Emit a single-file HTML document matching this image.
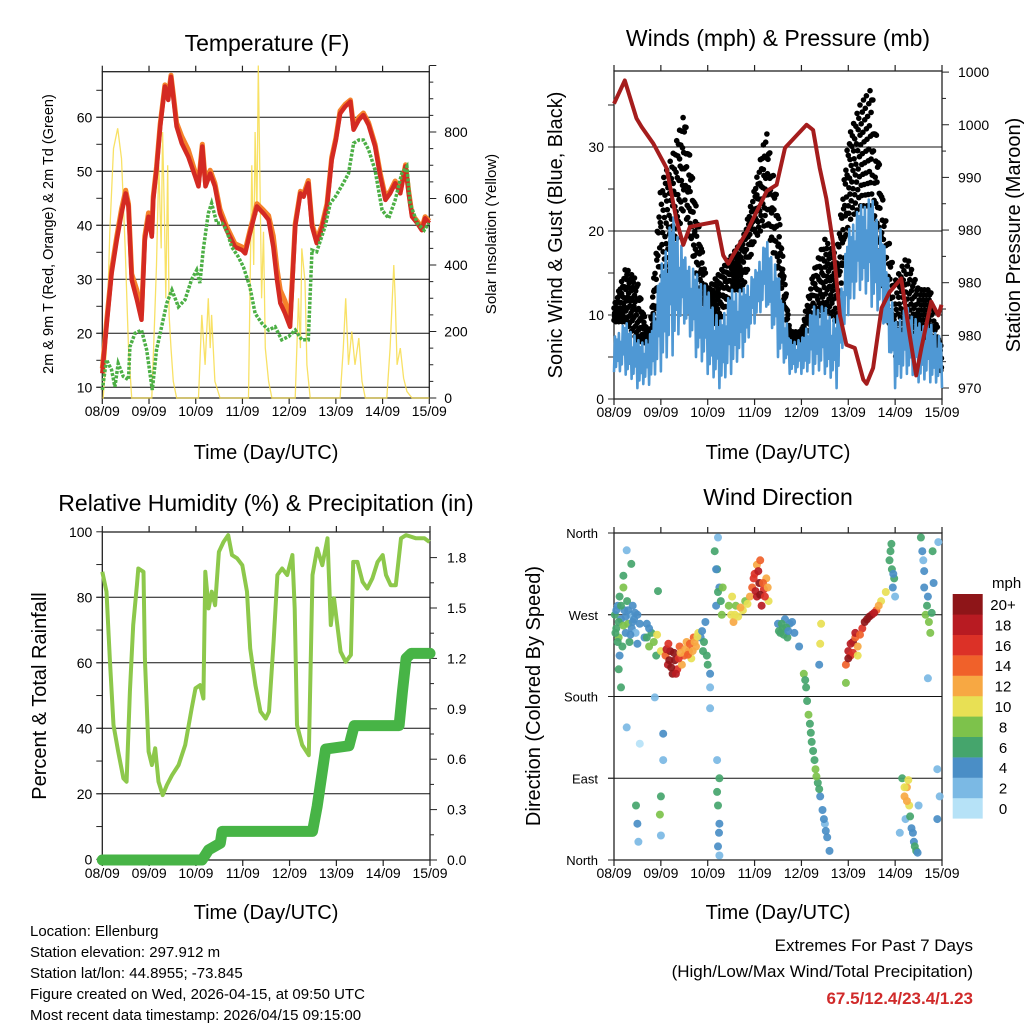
<!DOCTYPE html>
<html><head><meta charset="utf-8"><style>
html,body{margin:0;padding:0;background:#fff;}
svg{display:block;font-family:"Liberation Sans",Arial,sans-serif;}
</style></head><body>
<svg id="s" width="1024" height="1024" viewBox="0 0 1024 1024" xmlns="http://www.w3.org/2000/svg">
<rect width="1024" height="1024" fill="#fff"/>
<text x="267" y="51" font-size="23" text-anchor="middle">Temperature (F)</text>
<text x="778" y="46" font-size="23" text-anchor="middle">Winds (mph) &amp; Pressure (mb)</text>
<text x="266" y="511" font-size="23" text-anchor="middle">Relative Humidity (%) &amp; Precipitation (in)</text>
<text x="778" y="505" font-size="23" text-anchor="middle">Wind Direction</text>
<text x="266" y="459" font-size="20" text-anchor="middle">Time (Day/UTC)</text>
<text x="778" y="459" font-size="20" text-anchor="middle">Time (Day/UTC)</text>
<text x="266" y="919" font-size="20" text-anchor="middle">Time (Day/UTC)</text>
<text x="778" y="919" font-size="20" text-anchor="middle">Time (Day/UTC)</text>
<text transform="translate(53,234) rotate(-90)" font-size="14.5" text-anchor="middle">2m &amp; 9m T (Red, Orange) &amp; 2m Td (Green)</text>
<text transform="translate(496,234) rotate(-90)" font-size="15" text-anchor="middle">Solar Insolation (Yellow)</text>
<text transform="translate(562,235) rotate(-90)" font-size="20" text-anchor="middle">Sonic Wind &amp; Gust (Blue, Black)</text>
<text transform="translate(1020,235) rotate(-90)" font-size="20" text-anchor="middle">Station Pressure (Maroon)</text>
<text transform="translate(46,696) rotate(-90)" font-size="20" text-anchor="middle">Percent &amp; Total Rainfall</text>
<text transform="translate(540,696) rotate(-90)" font-size="20" text-anchor="middle">Direction (Colored By Speed)</text>
<g font-size="15">
<text x="30" y="936">Location: Ellenburg</text>
<text x="30" y="957">Station elevation: 297.912 m</text>
<text x="30" y="978">Station lat/lon: 44.8955; -73.845</text>
<text x="30" y="999">Figure created on Wed, 2026-04-15, at 09:50 UTC</text>
<text x="30" y="1020">Most recent data timestamp: 2026/04/15 09:15:00</text>
</g>
<text x="973" y="951" font-size="17" text-anchor="end">Extremes For Past 7 Days</text>
<text x="973" y="977" font-size="17" text-anchor="end">(High/Low/Max Wind/Total Precipitation)</text>
<text x="973" y="1004" font-size="17" font-weight="bold" fill="#d02a2a" text-anchor="end">67.5/12.4/23.4/1.23</text>
<text x="992" y="588" font-size="15">mph</text>
</svg>
<script>
// ---------- DATA ----------
const dayLabels=["08/09","09/09","10/09","11/09","12/09","13/09","14/09","15/09"];
const tDay=[0,.09,.2,.31,.41,.5,.56,.63,.74,.84,.91,.99,1.06,1.09,1.16,1.24,1.34,1.41,1.47,1.52,1.59,1.7,1.84,1.99,2.06,2.14,2.21,2.31,2.41,2.52,2.66,2.84,2.99,3.06,3.16,3.31,3.45,3.56,3.66,3.74,3.81,3.91,4.02,4.13,4.24,4.31,4.41,4.49,4.59,4.7,4.81,4.91,5.0,5.09,5.2,5.31,5.38,5.49,5.59,5.7,5.84,5.95,6.06,6.16,6.27,6.38,6.49,6.56,6.63,6.74,6.84,6.91,7.0];
const tRed=[12.6,21.2,31.1,37.3,42.2,45.9,43.5,29.9,26.2,22.5,37.3,41.6,37.9,44.7,50.2,58.3,65.7,63.2,67.5,63.8,58.3,55.2,52.7,49.0,47.2,54.6,47.2,49.6,47.2,42.2,39.1,36.0,35.4,34.8,38.5,43.5,42.2,41.0,36.0,29.9,25.6,23.7,21.2,39.8,45.9,45.3,47.8,39.8,36.7,39.4,43.5,52.1,55.8,60.7,62.0,62.9,57.7,59.5,60.4,58.6,54.6,49.0,44.7,45.9,47.8,45.9,50.9,45.9,41.6,40.4,39.1,41.3,40.4];
const tOrange=[13.5,22.0,31.8,38.0,43.0,46.5,44.0,31.0,28.0,23.5,38.0,42.3,38.5,45.3,50.8,58.8,66.0,63.8,67.8,64.3,59.0,56.5,54.0,49.8,47.8,55.0,47.8,50.2,47.8,43.0,39.8,36.6,36.0,35.4,39.0,44.0,42.8,41.8,38.0,32.0,28.0,26.0,22.5,40.3,46.3,45.8,48.3,40.3,37.3,40.0,44.0,52.6,56.2,61.2,62.4,63.2,58.2,60.0,60.8,59.0,55.0,49.6,45.3,46.3,48.2,46.3,51.2,46.3,42.0,40.8,39.5,41.6,40.8];
const tdDay=[0,.09,.2,.27,.34,.45,.56,.59,.7,.84,.95,1.07,1.16,1.27,1.38,1.49,1.63,1.77,1.91,2.02,2.09,2.16,2.27,2.34,2.45,2.56,2.66,2.77,2.91,3.02,3.16,3.27,3.41,3.56,3.7,3.84,3.99,4.13,4.27,4.41,4.49,4.59,4.77,4.88,4.99,5.16,5.27,5.38,5.49,5.59,5.7,5.84,5.99,6.13,6.27,6.41,6.52,6.59,6.74,6.89,6.99];
const tdGreen=[9.5,15.1,13.2,10.1,14.4,12.0,11.4,17.5,20.0,20.6,16.9,9.5,16.9,21.2,25.6,28.0,24.9,26.2,29.9,31.7,29.3,35.4,42.2,44.1,40.4,40.4,39.1,36.0,34.2,32.3,28.6,23.7,21.9,20.6,21.2,18.8,19.4,20.6,18.8,18.8,35.4,35.1,39.8,44.1,45.3,47.8,49.6,55.2,55.8,55.8,54.0,50.2,42.8,41.3,44.7,49.6,50.9,44.1,40.4,39.1,40.4];
const solarDay=[0,.02,.09,.16,.24,.33,.41,.49,.56,.63,1.0,1.06,1.11,1.16,1.21,1.26,1.29,1.33,1.36,1.4,1.43,1.47,1.52,1.59,2.0,2.06,2.13,2.2,2.27,2.31,2.34,2.41,2.52,3.1,3.13,3.16,3.2,3.24,3.27,3.31,3.34,3.38,3.41,3.45,3.49,3.56,3.63,4.1,4.13,4.2,4.24,4.27,4.34,4.38,4.45,5.05,5.09,5.16,5.21,5.27,5.34,5.41,5.49,5.56,5.63,6.05,6.09,6.16,6.24,6.27,6.31,6.38,6.45,6.52,6.63,7.0];
const solarVal=[0,0,150,500,750,811,720,450,150,0,0,0,200,400,700,450,800,550,300,700,250,150,50,0,0,0,250,100,300,150,250,50,0,0,0,300,700,400,800,550,1000,600,300,500,150,50,0,0,0,300,150,450,350,100,0,0,0,150,300,100,200,100,180,50,0,0,0,150,400,300,100,150,60,20,0,0];
const windLo=[3.2,2.9,1.3,1.7,3.3,5.2,9,5,3,1.3,3,5,9,11,5,3,3,3,3,1.3,10,13,11,9,1.3,3,2,2,1.3];
const windHi=[7.3,9.2,7,7,15.6,22,17,15,13,9,13,13,15,19,15,7,7,11,11,9,20,23,24,19,9,11,9,9,7];
const gustLo=[9.2,9.2,7,6.5,13,17,23,15,9,9,13,13,19,21,15,7,6.5,9,11,9,21,23,23,13,5,7,7,7,3];
const gustHi=[11,15.6,14,7,25.5,29,34,23,13,15,17,19,25,32,23,8,8,15,19,17,31,35,37,23,14,17,13,13,5.6];
const presDay=[0,.23,.48,.59,.84,1.12,1.34,1.48,1.62,1.83,2.19,2.33,2.44,2.54,2.83,3.04,3.26,3.47,3.65,3.9,4.11,4.25,4.39,4.53,4.67,4.82,4.96,5.14,5.32,5.39,5.53,5.71,5.88,6.13,6.31,6.45,6.56,6.77,6.92,6.99];
const presVal=[997.0,999.2,995.6,994.8,993.2,990.9,985.8,983.6,985.3,985.5,985.8,982.6,981.8,982.6,984.8,986.7,988.7,989.3,992.8,994.0,995.0,994.5,990.9,988.0,983.9,976.9,974.1,973.8,970.8,970.4,971.9,977.6,979.1,980.4,975.0,971.2,973.8,978.2,976.9,977.9];
const rhDay=[0,.09,.16,.24,.34,.45,.52,.59,.66,.74,.77,.88,.91,.99,1.06,1.13,1.2,1.29,1.38,1.49,1.63,1.77,1.91,1.99,2.09,2.16,2.2,2.27,2.34,2.41,2.49,2.59,2.69,2.77,2.88,2.99,3.09,3.16,3.27,3.38,3.49,3.56,3.66,3.74,3.84,3.95,4.06,4.11,4.16,4.27,4.41,4.49,4.59,4.7,4.81,4.88,4.95,5.02,5.09,5.2,5.31,5.36,5.45,5.56,5.66,5.77,5.88,5.99,6.06,6.16,6.27,6.38,6.49,6.7,6.88,6.99];
const rhVal=[87.8,81.7,61.3,41.0,32.9,24.7,23.7,51.2,71.5,83.7,88.8,87.8,61.3,32.9,28.8,33.9,23.7,19.6,22.7,25.7,28.8,34.9,46.1,52.2,53.2,49.1,87.8,76.6,81.7,77.6,93.9,96.9,99.0,92.9,91.9,89.8,81.7,64.4,53.2,45.1,43.0,45.1,66.4,86.8,88.8,86.8,92.9,76.6,41.0,34.9,31.8,86.8,94.9,89.8,98.0,71.5,79.7,71.5,63.4,60.3,62.4,90.8,90.8,84.7,82.7,85.8,90.8,92.9,86.8,83.7,83.7,98.0,99.0,98.0,98.0,96.9];
const rainDay=[0,2.13,2.2,2.27,2.52,2.56,4.49,4.59,4.77,5.27,5.38,6.34,6.41,6.49,6.6,7.0];
const rainVal=[0,0,0.03,0.06,0.1,0.17,0.17,0.32,0.66,0.68,0.8,0.8,1.0,1.2,1.23,1.23];
const dirDay=[0.02,0.05,0.08,0.1,0.12,0.15,0.18,0.2,0.22,0.25,0.28,0.3,0.33,0.35,0.38,0.4,0.43,0.46,0.5,0.55,0.2,0.27,0.37,0.1,0.15,0.27,0.47,0.5,0.52,0.55,
0.65,0.7,0.75,0.8,0.87,0.94,0.9,1.0,1.05,1.05,1.0,0.98,1.0,
1.1,1.15,1.2,1.25,1.3,1.35,1.4,1.45,1.5,1.55,1.6,1.65,1.7,1.75,1.8,
1.85,1.9,1.95,2.0,2.05,2.05,2.05,2.15,2.2,2.25,2.18,2.22,2.3,2.2,2.25,2.22,2.25,2.22,2.25,
2.5,2.55,2.6,2.65,2.75,2.8,2.9,2.95,3.0,3.05,3.1,3.15,3.2,3.25,3.3,3.05,
3.5,3.55,3.6,3.65,3.7,3.75,3.85,3.95,
4.05,4.1,4.12,4.15,4.2,4.25,4.3,4.35,4.4,4.45,4.5,4.55,4.6,4.42,4.4,4.38,
4.95,5.0,5.05,5.1,5.15,5.2,5.3,5.4,5.5,5.6,5.7,5.8,4.95,
5.9,5.93,5.95,5.98,6.0,
6.15,6.2,6.25,6.3,6.22,6.35,6.4,6.45,6.1,6.5,
6.55,6.6,6.62,6.65,6.7,6.75,6.8,6.7,6.9,6.95,6.9,
0.05,0.1,0.15,0.2,0.25,0.3,0.35,0.4,0.45,0.03,0.08,0.12,0.5,
0.7,0.75,0.85,0.92,
1.12,1.18,1.22,1.28,1.32,1.38,1.42,1.16,
1.52,1.58,1.62,1.68,1.72,1.78,
1.88,1.92,1.98,
2.18,2.22,2.28,2.32,2.2,2.24,
2.45,2.52,2.58,2.7,2.85,
2.98,3.02,3.08,3.12,3.18,3.22,3.28,3.12,
3.52,3.58,3.62,3.68,3.72,3.8,
4.08,4.18,4.22,4.28,4.32,4.38,4.48,4.52,
5.0,5.05,5.1,5.15,5.25,5.35,5.45,5.55,5.65,5.2,
5.88,5.92,5.96,
6.2,6.25,6.28,6.32,6.38,6.42,6.48,
6.58,6.62,6.68,6.72,6.78,6.82,6.92];
const dirDeg=[270,255,280,245,290,265,235,300,275,250,285,260,240,270,255,280,265,250,270,260,313,341,326,210,190,146,60,40,20,128,
245,260,235,250,179,296,225,230,139,110,70,50,27,
225,215,230,205,220,210,235,215,225,240,230,222,245,235,250,
245,230,262,215,205,190,167,340,320,300,280,355,270,110,90,60,40,15,5,
270,262,280,268,275,285,290,300,315,290,305,280,298,310,285,325,
260,250,255,265,245,260,250,235,
205,190,175,160,140,120,100,85,70,55,40,25,10,260,238,215,
215,230,225,240,245,235,255,265,270,275,285,295,195,
340,320,300,310,290,
90,70,80,60,45,35,20,10,30,60,
355,330,300,270,290,250,340,200,100,70,45,
275,262,280,258,268,275,248,262,272,250,240,225,238,
245,255,240,248,
232,220,212,228,205,222,228,238,
232,226,238,230,240,246,
252,240,225,
320,295,285,300,75,30,
280,290,270,278,282,
310,296,318,292,305,290,300,330,
252,260,248,256,252,262,
198,150,130,110,92,78,45,32,
222,238,228,250,248,262,268,272,280,225,
330,348,315,
80,65,88,48,30,15,8,
340,318,280,262,272,305,350];
const dirSpd=[6,7,5,8,7,4,6,8,5,4,7,9,6,3,4,5,4,3,4,5,6,2,6,6,7,3,7,4,3,1,
4,5,9,6,3,6,7,10,4,3,7,8,3,
15,19,21,21,20,17,15,12,14,12,15,11,14,12,10,
4,6,5,7,4,3,2,7,6,5,4,3,8,2,6,6,4,4,2,
10,12,9,11,10,8,12,15,17,19,20,18,16,13,11,12,
5,6,6,5,6,4,4,4,
8,7,7,9,7,6,8,7,5,4,3,4,5,10,10,5,
14,18,16,20,15,12,16,20,18,14,11,10,9,
6,6,4,7,3,
6,12,13,10,3,5,4,6,2,3,
6,3,4,8,5,9,7,3,3,2,4,
5,6,7,8,5,4,4,5,4,6,7,5,4,
6,4,8,10,
18,20,21,21,18,16,13,16,
13,15,14,12,13,11,
5,7,6,
5,7,6,8,7,5,
8,10,11,12,10,
17,19,18,20,15,17,12,14,
6,6,6,6,5,5,
7,7,6,7,8,6,5,4,
20,19,16,18,15,20,20,19,13,10,
6,6,5,
11,13,10,6,5,6,5,
4,5,6,8,6,4,3];
const cbLabels=["0","2","4","6","8","10","12","14","16","18","20+"];
const cbColors=["#b6e2f7","#7bb9e4","#4a8ec6","#45a56c","#7dc24b","#e8e054","#f7a843","#f0612a","#dc3127","#b81b22","#8e1518"];

// ---------- HELPERS ----------
const S=document.getElementById('s');
const NS='http://www.w3.org/2000/svg';
function mk(tag,attrs,name,parent){
  const el=document.createElementNS(NS,tag);
  for(const k in attrs) el.setAttribute(k,attrs[k]);
  
  
  (parent||S).appendChild(el);return el;
}
function txt(x,y,s,anchor,size,name){
  const t=mk('text',{x:x,y:y,'font-size':size||14,'text-anchor':anchor||'middle'},name);
  t.textContent=s;return t;
}
const P1={x0:102.3,x1:429.3,y0:71.7,y1:398};
const P2={x0:614,x1:942,y0:71,y1:399};
const P3={x0:102.3,x1:430,y0:532,y1:860};
const P4={x0:614,x1:942,y0:533,y1:860};
const X=(P,d)=>P.x0+d*(P.x1-P.x0)/7;
const yT=v=>387.3-(v-10)*5.4;
const yS=v=>398-v*0.3325;
const yW=v=>399-v*8.4;
const yP=v=>388-(v-970)*10.53;
const yRH=v=>859.3-v*3.275;
const yR=v=>860-v*168;
const yD=v=>860-v*327/360;

function frame(P,name){
  mk('rect',{x:P.x0,y:P.y0,width:P.x1-P.x0,height:P.y1-P.y0,fill:'none',stroke:'#222','stroke-width':1.3},name);
  for(let i=0;i<=7;i++){
    const x=X(P,i);
    mk('line',{x1:x,y1:P.y1,x2:x,y2:P.y1+6,stroke:'#222','stroke-width':1.2},name+'-xtick');
    mk('line',{x1:x,y1:P.y0,x2:x,y2:P.y0-6,stroke:'#222','stroke-width':1.2},name+'-xtick-top');
    txt(x,P.y1+18,dayLabels[i],'middle',14,name+'-xtick-label');
  }
}
function grid(P,ys,name){ys.forEach(y=>mk('line',{x1:P.x0-6,y1:y,x2:P.x1,y2:y,stroke:'#111','stroke-width':1},name));}
function ytick(x,y,len,name){mk('line',{x1:x,y1:y,x2:x+len,y2:y,stroke:'#222','stroke-width':1},name);}
function poly(xs,ys,attrs,name){
  let d='';for(let i=0;i<xs.length;i++)d+=(i?'L':'M')+xs[i].toFixed(1)+','+ys[i].toFixed(1);
  attrs.d=d;attrs.fill='none';return mk('path',attrs,name);
}

// ---------- PANEL 1: Temperature ----------
frame(P1,'temp-frame');
grid(P1,[10,20,30,40,50,60].map(yT),'temp-gridline');
for(let v=10;v<=65;v+=5)ytick(P1.x0,yT(v),-6,'temp-left-tick');
[10,20,30,40,50,60].forEach(v=>txt(P1.x0-10,yT(v)+5,String(v),'end',14,'temp-y-tick-label'));
for(let v=0;v<=1000;v+=50)ytick(P1.x1,yS(v),v%200===0?7:4,'solar-right-tick');
[0,200,400,600,800].forEach(v=>txt(P1.x1+15,yS(v)+5,String(v),'start',14,'solar-y-tick-label'));
poly(solarDay.map(d=>X(P1,d)),solarVal.map(yS),{stroke:'#f7dc4a','stroke-width':1.3,'stroke-opacity':0.85},'solar-insolation-line');
poly(tDay.map(d=>X(P1,d)),tOrange.map(yT),{stroke:'#f5822a','stroke-width':5,'stroke-linejoin':'round'},'temp-9m-line');
poly(tDay.map(d=>X(P1,d)),tRed.map(yT),{stroke:'#d42a22','stroke-width':4.5,'stroke-linejoin':'round'},'temp-2m-line');
poly(tdDay.map(d=>X(P1,d)),tdGreen.map(yT),{stroke:'#4caf45','stroke-width':3.5,'stroke-dasharray':'3 1.5'},'dewpoint-line');

// ---------- PANEL 2: Winds ----------
frame(P2,'winds-frame');
grid(P2,[10,20,30].map(yW),'wind-gridline');
for(let v=0;v<=35;v+=5)ytick(P2.x0,yW(v),-6,'wind-left-tick');
[0,10,20,30].forEach(v=>txt(P2.x0-10,yW(v)+5,String(v),'end',14,'wind-y-tick-label'));
const presLabels=["970","980","980","980","990","1000","1000"];
for(let i=0;i<=12;i++)ytick(P2.x1,yP(970+i*2.5),i%2===0?7:4,'pressure-right-tick');
for(let i=0;i<7;i++)txt(P2.x1+16,yP(970+i*5)+5,presLabels[i],'start',14,'pressure-y-tick-label');
const pat=[0,1,0.15,0.85,0.3,0.95,0.05,0.7,0.2,1,0.4,0.9];
const gpat=[0.1,0.9,0.5,0.3,0.7,1.0,0.0,0.6,0.2,0.8,0.4];
const gg=mk('g',{},'gust-dots');
let k=0;
for(let i=0;i<28;i++){
  for(let s=0;s<20;s++){
    const f=s/20,d=(i+f)*0.25;
    const lo=gustLo[i]+(gustLo[i+1]-gustLo[i])*f, hi=gustHi[i]+(gustHi[i+1]-gustHi[i])*f;
    for(let r=0;r<2;r++){const p=gpat[(k++)%gpat.length];
      mk('circle',{cx:X(P2,d).toFixed(1),cy:yW(lo+(hi-lo)*p).toFixed(1),r:2.8,fill:'#000'},'gust-dot',gg);}
  }
}
const wx=[],wy=[];k=0;
for(let i=0;i<28;i++){
  for(let s=0;s<12;s++){
    const f=s/12,d=(i+f)*0.25;
    const lo=windLo[i]+(windLo[i+1]-windLo[i])*f, hi=windHi[i]+(windHi[i+1]-windHi[i])*f;
    wx.push(X(P2,d));wy.push(yW(lo+(hi-lo)*pat[(k++)%pat.length]));
  }
}
wx.push(X(P2,7));wy.push(yW(windLo[28]));
poly(wx,wy,{stroke:'#4f98d4','stroke-width':2.6,'stroke-linejoin':'round'},'sonic-wind-line');
poly(presDay.map(d=>X(P2,d)),presVal.map(yP),{stroke:'#a51d1d','stroke-width':4,'stroke-linejoin':'round'},'station-pressure-line');

// ---------- PANEL 3: RH ----------
frame(P3,'humidity-frame');
grid(P3,[20,40,60,80].map(yRH),'humidity-gridline');
for(let v=0;v<=100;v+=10)ytick(P3.x0,yRH(v),-6,'humidity-left-tick');
[0,20,40,60,80,100].forEach(v=>txt(P3.x0-10,yRH(v)+5,String(v),'end',14,'humidity-y-tick-label'));
for(let v=0;v<=1.86;v+=0.15)ytick(P3.x1,yR(v),Math.round(v*100)%30===0?7:4,'rain-right-tick');
["0.0","0.3","0.6","0.9","1.2","1.5","1.8"].forEach((s,i)=>txt(P3.x1+17,yR(i*0.3)+5,s,'start',14,'rain-y-tick-label'));
poly(rhDay.map(d=>X(P3,d)),rhVal.map(yRH),{stroke:'#8dc84b','stroke-width':4,'stroke-linejoin':'round'},'relative-humidity-line');
poly(rainDay.map(d=>X(P3,d)),rainVal.map(yR),{stroke:'#47b446','stroke-width':11,'stroke-linejoin':'round','stroke-linecap':'round'},'total-rainfall-line');

// ---------- PANEL 4: Wind direction ----------
frame(P4,'direction-frame');
grid(P4,[90,180,270].map(yD),'direction-gridline');
["North","East","South","West","North"].forEach((s,i)=>{ytick(P4.x0,yD(i*90),-6,'direction-left-tick');txt(P4.x0-16,yD(i*90)+5,s,'end',13,'direction-y-tick-label');});
const dg=mk('g',{},'direction-dots');
for(let i=0;i<dirDay.length;i++){
  const b=Math.min(10,Math.max(0,Math.floor(dirSpd[i]/2)));
  mk('circle',{cx:X(P4,dirDay[i]).toFixed(1),cy:yD(dirDeg[i]).toFixed(1),r:4,fill:cbColors[b],'fill-opacity':0.92},'direction-dot',dg);
}
// colorbar
for(let i=0;i<11;i++){
  const y=594+(10-i)*20.4;
  mk('rect',{x:952.7,y:y,width:30,height:20.6,fill:cbColors[i]},'colorbar-box');
  txt(1003,y+16,cbLabels[i],'middle',15,'colorbar-label');
}
</script>
</body></html>
